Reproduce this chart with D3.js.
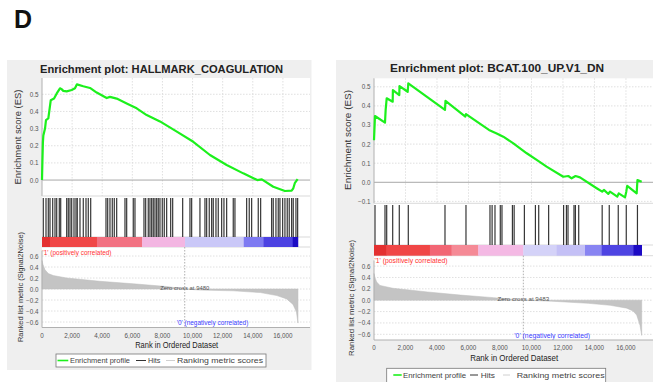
<!DOCTYPE html>
<html>
<head>
<meta charset="utf-8">
<script src="https://cdn.jsdelivr.net/npm/d3@7"></script>
<style>
  body { margin: 0; background: #fff; }
  svg { display: block; }
  text { font-family: "Liberation Sans", Arial, sans-serif; }
</style>
</head>
<body>
<svg id="chart" width="653" height="382"></svg>
<script>
// ---------- shared axis ticks ----------
const rankTicks = [0, 2000, 4000, 6000, 8000, 10000, 12000, 14000, 16000];
const rankTickLabels = ["0", "2,000", "4,000", "6,000", "8,000", "10,000", "12,000", "14,000", "16,000"];
const metricTicks = [0.6, 0.4, 0.2, 0.0, -0.2, -0.4, -0.6];
const esTicksCoag = [0.0, 0.1, 0.2, 0.3, 0.4, 0.5];
const esTicksBcat = [-0.1, 0.0, 0.1, 0.2, 0.3, 0.4, 0.5];

// ---------- HALLMARK_COAGULATION ----------
const coagESRank = [0, 25, 60, 90, 200, 265, 420, 580, 800, 980, 1195, 1300, 1414, 1640, 1972, 2191, 2320,
  2742, 3187, 3632, 4296, 4515, 4960, 5624, 6288, 6952, 7835, 8900, 10047, 11155, 12264, 13367, 14300,
  14600, 15360, 16135, 16580, 16690, 16800, 16980];
const coagES = [0.0, 0.10, 0.22, 0.26, 0.30, 0.35, 0.36, 0.465, 0.475, 0.505, 0.535, 0.53, 0.52, 0.517, 0.525, 0.535, 0.558,
  0.547, 0.537, 0.51, 0.478, 0.485, 0.475, 0.447, 0.418, 0.379, 0.342, 0.285, 0.223, 0.146, 0.088, 0.039, 0.0,
  0.004, -0.039, -0.064, -0.062, -0.048, -0.016, 0.006];
const coagHits = [86, 266, 418, 531, 710, 863, 976, 1149, 1242, 1640, 1746, 1859, 1972, 2125, 2258, 2344, 2523,
  2742, 2922, 3074, 3234, 4250, 4363, 4515, 4668, 4801, 4960, 5511, 5624, 6062, 6175, 6773, 6886, 7058, 7171,
  7284, 7390, 7503, 7616, 7722, 7835, 7988, 8121, 8280, 8546, 8679, 9343, 9827, 9940, 10491, 10823, 10936,
  11109, 11268, 11375, 11554, 11707, 11932, 12085, 12264, 12703, 12815, 13592, 13765, 13924, 14363, 14522,
  15252, 15359, 15538, 15691, 15804, 15983, 16135, 16288, 16421, 16580, 16687, 16866, 16979];
const coagMetricRank = [0, 60, 200, 420, 750, 1640, 3850, 6060, 8280, 9480, 10500, 12700, 14500, 15600, 16250, 16670, 16900, 17000];
const coagMetric = [0.52, 0.45, 0.35, 0.28, 0.245, 0.2, 0.14, 0.095, 0.045, 0, -0.02, -0.033, -0.065, -0.12, -0.18, -0.28, -0.42, -0.62];
const coagBandEdges = [0, 530, 3650, 6650, 9500, 13400, 14700, 16650, 17000];
const coagBandColors = ["#e43030", "#f04848", "#f27282", "#f3b6e2", "#cac8f8", "#7e7af2", "#4c42e2", "#1c0cc4"];
const coagZeroCross = 9480;

// ---------- BCAT.100_UP.V1_DN ----------
const bcatESRank = [0, 63, 698, 740, 806, 1187, 1200, 1606, 1620, 2140, 2178, 4508, 4540, 5800, 5841, 7300,
  7790, 8210, 8850, 9700, 10330, 10960, 12020, 12340, 12550, 12800, 13080, 14140, 14490, 14600, 14880, 14985,
  15450, 15540, 15940, 16020, 16080, 16680, 16730, 17000];
const bcatES = [0.22, 0.347, 0.312, 0.379, 0.44, 0.422, 0.483, 0.457, 0.504, 0.474, 0.518, 0.379, 0.426, 0.344, 0.357, 0.274,
  0.256, 0.239, 0.204, 0.152, 0.117, 0.082, 0.029, 0.033, 0.021, 0.033, 0.026, -0.031, -0.049, -0.040, -0.061, -0.049,
  -0.075, -0.058, -0.079, -0.049, -0.019, -0.058, 0.012, 0.003];
const bcatHits = [63, 698, 806, 1187, 1606, 2178, 4508, 5841, 7365, 7500, 7683, 8020, 8127, 8790, 8900, 9550,
  10250, 10460, 11090, 12040, 12220, 12320, 12700, 12790, 13000, 14490, 14940, 15511, 16020, 16730];
const bcatMetricRank = [0, 60, 170, 380, 1200, 3400, 5500, 7600, 9483, 11300, 13600, 15000, 16050, 16450, 16680, 16890, 17000];
const bcatMetric = [0.47, 0.40, 0.32, 0.26, 0.21, 0.145, 0.09, 0.045, 0, -0.018, -0.055, -0.09, -0.14, -0.19, -0.26, -0.44, -0.62];
const bcatBandEdges = [0, 800, 3550, 4930, 6620, 9480, 11600, 13400, 14460, 16460, 17000];
const bcatBandColors = ["#e43030", "#f04646", "#f26674", "#f58a96", "#f4b9e4", "#d4d2f8", "#c4c0f6", "#8884f2", "#4e44e2", "#1c0ac4"];
const bcatZeroCross = 9483;

const svg = d3.select("#chart");

// Panel letter
svg.append("text").attr("x", 14).attr("y", 28)
  .attr("font-size", 25).attr("font-weight", "bold").attr("fill", "#111").text("D");

function drawPanel(p) {
  const g = svg.append("g");
  const x = d3.scaleLinear().domain([0, p.rankMax]).range([p.x0, p.x1]);
  const yES = d3.scaleLinear().domain(p.esDomain).range([p.esBottom, p.esTop]);
  const yM = d3.scaleLinear().domain([-0.7, 0.7]).range([p.mBottom, p.mTop]);

  // panel background and white plot column
  g.append("rect").attr("x", p.bg[0]).attr("y", p.bg[1]).attr("width", p.bg[2]).attr("height", p.bg[3]).attr("fill", "#efefef");
  g.append("rect").attr("x", p.x0).attr("y", p.esTop).attr("width", p.x1 - p.x0).attr("height", p.mBottom - p.esTop).attr("fill", "#fff");

  // title
  g.append("text").attr("x", p.titleX).attr("y", p.titleY).attr("text-anchor", "middle").attr("dominant-baseline", "central")
    .attr("font-size", 11).attr("font-weight", "bold").attr("fill", "#222")
    .attr("textLength", p.titleW).attr("lengthAdjust", "spacingAndGlyphs").text(p.title);

  // ES plot grid
  g.selectAll(null).data(rankTicks.slice(1)).join("line")
    .attr("x1", d => x(d)).attr("x2", d => x(d)).attr("y1", p.esTop).attr("y2", p.esBottom)
    .attr("stroke", "#d8d8d8").attr("stroke-width", 0.8).attr("stroke-dasharray", "1.5,1.5");
  g.selectAll(null).data(p.esTicks.filter(d => d !== 0)).join("line")
    .attr("x1", p.x0).attr("x2", p.x1).attr("y1", d => yES(d)).attr("y2", d => yES(d))
    .attr("stroke", "#d8d8d8").attr("stroke-width", 0.8).attr("stroke-dasharray", "1.5,1.5");
  g.append("line").attr("x1", p.x0).attr("x2", p.x1).attr("y1", yES(0)).attr("y2", yES(0))
    .attr("stroke", "#a8a8a8").attr("stroke-width", 1);

  // ES axis
  g.append("line").attr("x1", p.x0).attr("x2", p.x0).attr("y1", p.esTop).attr("y2", p.esBottom).attr("stroke", "#b0b0b0");
  g.selectAll(null).data(p.esTicks).join("text")
    .attr("x", p.x0 - 3.5).attr("y", d => yES(d)).attr("text-anchor", "end").attr("dominant-baseline", "central")
    .attr("font-size", 6.3).attr("fill", "#555").text(d => d3.format(".1f")(d));
  g.append("text").attr("transform", `translate(${p.esLabelX},${p.esLabelY}) rotate(-90)`)
    .attr("text-anchor", "middle").attr("dominant-baseline", "central")
    .attr("font-size", 8.5).attr("fill", "#333")
    .attr("textLength", p.esLabelW).attr("lengthAdjust", "spacingAndGlyphs").text("Enrichment score (ES)");

  // borders between ES plot, hits and color bar
  [p.esBottom, p.hitBottom, p.barBottom].forEach(yy => {
    g.append("line").attr("x1", p.x0).attr("x2", p.x1).attr("y1", yy).attr("y2", yy).attr("stroke", "#cfcfcf").attr("stroke-width", 0.8);
  });

  // hits
  g.selectAll(null).data(p.hits).join("line")
    .attr("x1", d => x(d)).attr("x2", d => x(d)).attr("y1", p.hitTop).attr("y2", p.hitBottom)
    .attr("stroke", "#1a1a1a").attr("stroke-width", 1.2).attr("stroke-opacity", 0.88);

  // color bar
  const bands = p.bandColors.map((c, i) => ({ a: p.bandEdges[i], b: p.bandEdges[i + 1], c }));
  g.selectAll(null).data(bands).join("rect")
    .attr("x", d => x(d.a)).attr("width", d => x(d.b) - x(d.a) + 0.3)
    .attr("y", p.hitBottom).attr("height", p.barBottom - p.hitBottom).attr("fill", d => d.c);

  // metric plot grid
  g.selectAll(null).data(metricTicks).join("line")
    .attr("x1", p.x0).attr("x2", p.x1).attr("y1", d => yM(d)).attr("y2", d => yM(d))
    .attr("stroke", "#d8d8d8").attr("stroke-width", 0.8).attr("stroke-dasharray", "1.5,1.5");

  // ranked metric area
  const mData = p.metricRank.map((r, i) => [r, p.metric[i]]);
  g.append("path").datum(mData)
    .attr("d", d3.area().x(d => x(d[0])).y0(yM(0)).y1(d => yM(d[1])))
    .attr("fill", "#c4c4c4").attr("stroke", "#bdbdbd").attr("stroke-width", 0.5);

  // zero cross
  g.append("line").attr("x1", x(p.zeroCross)).attr("x2", x(p.zeroCross)).attr("y1", p.barBottom).attr("y2", p.mBottom)
    .attr("stroke", "#9a9a9a").attr("stroke-width", 0.8).attr("stroke-dasharray", "1.5,1.5");
  g.append("text").attr("x", x(p.zeroCross)).attr("y", yM(0) - 1.5).attr("text-anchor", "middle").attr("dominant-baseline", "central")
    .attr("font-size", 6).attr("fill", "#555")
    .attr("textLength", p.zcW).attr("lengthAdjust", "spacingAndGlyphs").text("Zero cross at " + p.zeroCross);

  g.append("text").attr("x", p.x0 + 0.5).attr("y", p.posLabelY).attr("dominant-baseline", "central")
    .attr("font-size", 6.5).attr("fill", "#ff3030")
    .attr("textLength", p.posW).attr("lengthAdjust", "spacingAndGlyphs").text("'1' (positively correlated)");
  g.append("text").attr("x", p.negX).attr("y", p.negLabelY).attr("dominant-baseline", "central")
    .attr("font-size", 6.5).attr("fill", "#3c3cff")
    .attr("textLength", p.negW).attr("lengthAdjust", "spacingAndGlyphs").text("'0' (negatively correlated)");

  // metric axes
  g.append("line").attr("x1", p.x0).attr("x2", p.x0).attr("y1", p.mTop).attr("y2", p.mBottom).attr("stroke", "#b0b0b0");
  g.append("line").attr("x1", p.x0).attr("x2", p.x1).attr("y1", p.mBottom).attr("y2", p.mBottom).attr("stroke", "#b0b0b0");
  g.selectAll(null).data(metricTicks).join("text")
    .attr("x", p.x0 - 3.5).attr("y", d => yM(d)).attr("text-anchor", "end").attr("dominant-baseline", "central")
    .attr("font-size", 6.3).attr("fill", "#555").text(d => d3.format(".1f")(d));
  g.append("text").attr("transform", `translate(${p.mLabelX},${p.mLabelY}) rotate(-90)`)
    .attr("text-anchor", "middle").attr("dominant-baseline", "central")
    .attr("font-size", 7.5).attr("fill", "#333")
    .attr("textLength", p.mLabelW).attr("lengthAdjust", "spacingAndGlyphs").text("Ranked list metric (Signal2Noise)");

  g.selectAll(null).data(rankTicks).join("text")
    .attr("x", d => x(d)).attr("y", p.xTickY).attr("text-anchor", "middle").attr("dominant-baseline", "central")
    .attr("font-size", 6.3).attr("fill", "#555").text((d, i) => rankTickLabels[i]);
  g.append("text").attr("x", p.xLabelX).attr("y", p.xLabelY).attr("text-anchor", "middle").attr("dominant-baseline", "central")
    .attr("font-size", 8.5).attr("fill", "#222")
    .attr("textLength", p.xLabelW).attr("lengthAdjust", "spacingAndGlyphs").text("Rank in Ordered Dataset");

  // enrichment profile
  const esData = p.esRank.map((r, i) => [r, p.es[i]]);
  g.append("path").datum(esData)
    .attr("d", d3.line().x(d => x(d[0])).y(d => yES(d[1])))
    .attr("fill", "none").attr("stroke", "#1cf01c").attr("stroke-width", 2.2).attr("stroke-linejoin", "round");

  // legend
  const L = p.legend;
  g.append("rect").attr("x", L.x).attr("y", L.y).attr("width", L.w).attr("height", L.h)
    .attr("fill", "#fff").attr("stroke", "#777").attr("stroke-width", 0.8);
  const ly = L.y + L.ty;
  g.append("line").attr("x1", L.g0).attr("x2", L.g1).attr("y1", ly).attr("y2", ly).attr("stroke", "#1cf01c").attr("stroke-width", 1.6);
  g.append("line").attr("x1", L.h0).attr("x2", L.h1).attr("y1", ly).attr("y2", ly).attr("stroke", "#333").attr("stroke-width", 1);
  g.append("line").attr("x1", L.r0).attr("x2", L.r1).attr("y1", ly).attr("y2", ly).attr("stroke", "#d0d0d0").attr("stroke-width", 1);
  [[L.t1, L.w1, "Enrichment profile"], [L.t2, L.w2, "Hits"], [L.t3, L.w3, "Ranking metric scores"]].forEach(([tx, tw, s]) => {
    g.append("text").attr("x", tx).attr("y", ly).attr("dominant-baseline", "central")
      .attr("font-size", 7.5).attr("fill", "#444")
      .attr("textLength", tw).attr("lengthAdjust", "spacingAndGlyphs").text(s);
  });
}

drawPanel({
  title: "Enrichment plot: HALLMARK_COAGULATION", titleX: 161.5, titleY: 68.5, titleW: 243,
  bg: [7, 60, 304.5, 310],
  rankMax: 17800, x0: 42, x1: 310,
  esDomain: [-0.093, 0.595], esTop: 78, esBottom: 196, esTicks: esTicksCoag,
  esLabelX: 18, esLabelY: 137, esLabelW: 95,
  hitTop: 198, hitBottom: 237, barBottom: 247,
  mTop: 250.5, mBottom: 327.5, mLabelX: 20, mLabelY: 287, mLabelW: 110,
  esRank: coagESRank, es: coagES, hits: coagHits,
  metricRank: coagMetricRank, metric: coagMetric,
  bandEdges: coagBandEdges, bandColors: coagBandColors, zeroCross: coagZeroCross,
  zcW: 49, posLabelY: 252.5, posW: 69, negX: 176.7, negLabelY: 322.3, negW: 71.6,
  xTickY: 335, xLabelX: 176.7, xLabelY: 345, xLabelW: 83,
  legend: { x: 56, y: 354, w: 210, h: 13, ty: 6.5, g0: 57.5, g1: 68.3, t1: 70, w1: 60, h0: 136, h1: 146, t2: 148, w2: 12.5,
            r0: 166, r1: 175, t3: 177, w3: 86 }
});

drawPanel({
  title: "Enrichment plot: BCAT.100_UP.V1_DN", titleX: 497, titleY: 68.3, titleW: 214,
  bg: [336, 60, 320, 330],
  rankMax: 17800, x0: 374, x1: 654.3,
  esDomain: [-0.11, 0.5445], esTop: 78.3, esBottom: 203.3, esTicks: esTicksBcat,
  esLabelX: 348, esLabelY: 140, esLabelW: 100,
  hitTop: 205, hitBottom: 245, barBottom: 255.7,
  mTop: 260.4, mBottom: 340, mLabelX: 351, mLabelY: 298, mLabelW: 116,
  esRank: bcatESRank, es: bcatES, hits: bcatHits,
  metricRank: bcatMetricRank, metric: bcatMetric,
  bandEdges: bcatBandEdges, bandColors: bcatBandColors, zeroCross: bcatZeroCross,
  zcW: 51.6, posLabelY: 260.5, posW: 73, negX: 514.3, negLabelY: 335, negW: 75.7,
  xTickY: 347, xLabelX: 514.2, xLabelY: 357.5, xLabelW: 88,
  legend: { x: 386.7, y: 368.3, w: 219, h: 16, ty: 6.7, g0: 393.3, g1: 401.7, t1: 403, w1: 63, h0: 470, h1: 478, t2: 480.7, w2: 14.3,
            r0: 503, r1: 510, t3: 516.7, w3: 88 }
});
</script>
</body>
</html>
